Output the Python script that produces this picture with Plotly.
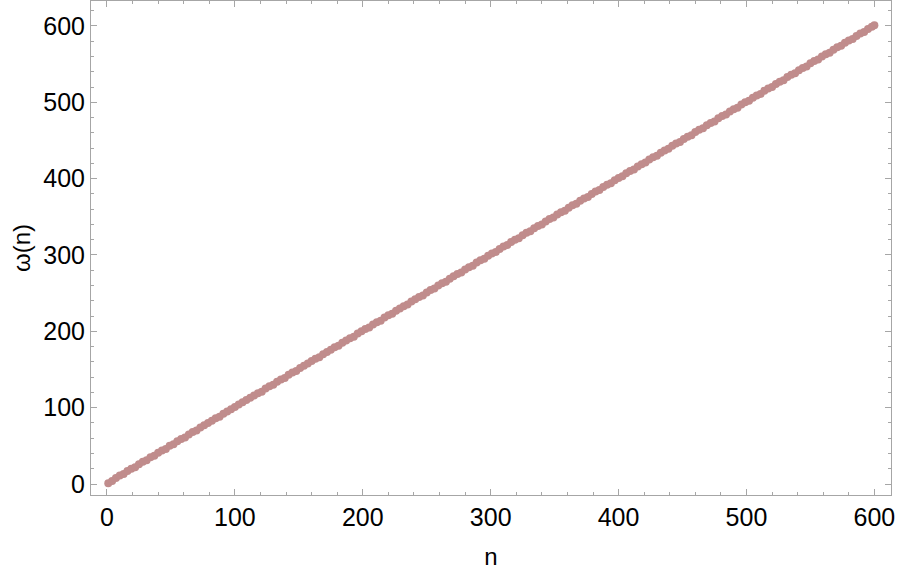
import plotly.graph_objects as go

n_vals = [1, 4, 7, 10, 13, 16, 19, 22, 25, 28, 31, 34, 37, 40, 43, 46, 49, 52, 55, 58,
          61, 64, 67, 70, 73, 76, 79, 82, 85, 88, 91, 94, 97, 100, 103, 106, 109, 112, 115, 118,
          121, 124, 127, 130, 133, 136, 139, 142, 145, 148, 151, 154, 157, 160, 163, 166, 169, 172, 175, 178,
          181, 184, 187, 190, 193, 196, 199, 202, 205, 208, 211, 214, 217, 220, 223, 226, 229, 232, 235, 238,
          241, 244, 247, 250, 253, 256, 259, 262, 265, 268, 271, 274, 277, 280, 283, 286, 289, 292, 295, 298,
          301, 304, 307, 310, 313, 316, 319, 322, 325, 328, 331, 334, 337, 340, 343, 346, 349, 352, 355, 358,
          361, 364, 367, 370, 373, 376, 379, 382, 385, 388, 391, 394, 397, 400, 403, 406, 409, 412, 415, 418,
          421, 424, 427, 430, 433, 436, 439, 442, 445, 448, 451, 454, 457, 460, 463, 466, 469, 472, 475, 478,
          481, 484, 487, 490, 493, 496, 499, 502, 505, 508, 511, 514, 517, 520, 523, 526, 529, 532, 535, 538,
          541, 544, 547, 550, 553, 556, 559, 562, 565, 568, 571, 574, 577, 580, 583, 586, 589, 592, 595, 598, 600]

omega_vals = [1, 4, 8, 11, 13, 17, 20, 22, 26, 29, 31, 35, 37, 41, 44, 46, 50, 52, 56, 59,
              61, 65, 68, 70, 74, 77, 80, 83, 86, 88, 92, 95, 98, 101, 104, 107, 110, 113, 116, 119,
              121, 125, 128, 130, 134, 137, 139, 143, 146, 148, 152, 155, 158, 161, 164, 166, 170, 173, 176, 179,
              181, 185, 188, 191, 193, 197, 200, 203, 205, 209, 212, 214, 218, 221, 223, 227, 230, 233, 235, 239,
              242, 245, 247, 251, 254, 256, 260, 263, 265, 269, 272, 275, 277, 281, 284, 286, 290, 293, 295, 299,
              302, 304, 308, 311, 313, 317, 320, 322, 326, 329, 331, 335, 338, 340, 344, 347, 349, 353, 356, 358,
              362, 365, 367, 371, 374, 376, 380, 383, 385, 389, 392, 394, 398, 401, 403, 407, 410, 412, 416, 419,
              421, 425, 428, 430, 434, 437, 439, 443, 446, 448, 452, 455, 457, 461, 464, 466, 470, 473, 475, 479,
              482, 484, 488, 491, 493, 497, 500, 502, 506, 509, 511, 515, 518, 520, 524, 527, 529, 533, 536, 538,
              542, 545, 547, 551, 554, 556, 560, 563, 565, 569, 572, 574, 578, 581, 583, 587, 590, 592, 596, 599, 601]

x_ticks = [0, 100, 200, 300, 400, 500, 600]
y_ticks = [0, 100, 200, 300, 400, 500, 600]

fig = go.Figure()
fig.add_trace(go.Scatter(
    x=n_vals, y=omega_vals, mode="markers",
    marker=dict(size=8, color="rgb(192,140,140)", line=dict(width=0)),
    showlegend=False, hoverinfo="x+y",
))

axis_common = dict(
    showline=True, linecolor="#a6a6a6", linewidth=1, mirror="ticks",
    ticks="inside", ticklen=6, tickcolor="#a6a6a6", tickwidth=1,
    showgrid=False, zeroline=False, automargin=False,
    tickfont=dict(family="Liberation Sans, Arial, sans-serif", size=25, color="black"),
    minor=dict(ticks="inside", ticklen=3, tickcolor="#a6a6a6", dtick=20, showgrid=False),
)

fig.update_layout(
    width=899, height=572,
    paper_bgcolor="white", plot_bgcolor="white",
    margin=dict(l=91, r=8, t=1, b=77),
    font=dict(family="Liberation Sans, Arial, sans-serif", color="black"),
    xaxis=dict(axis_common, range=[-12.5, 613], tickvals=x_ticks,
               ticktext=[str(v) for v in x_ticks],
               title=dict(text="n", font=dict(size=24), standoff=18)),
    yaxis=dict(axis_common, range=[-14.4, 632.7], tickvals=y_ticks,
               ticktext=[str(v) for v in y_ticks],
               title=dict(text="ω(n)", font=dict(size=24), standoff=5)),
)

fig.write_html("out.html", config={"displayModeBar": False},
               post_script="document.body.style.margin='0';document.body.style.overflow='hidden';")
